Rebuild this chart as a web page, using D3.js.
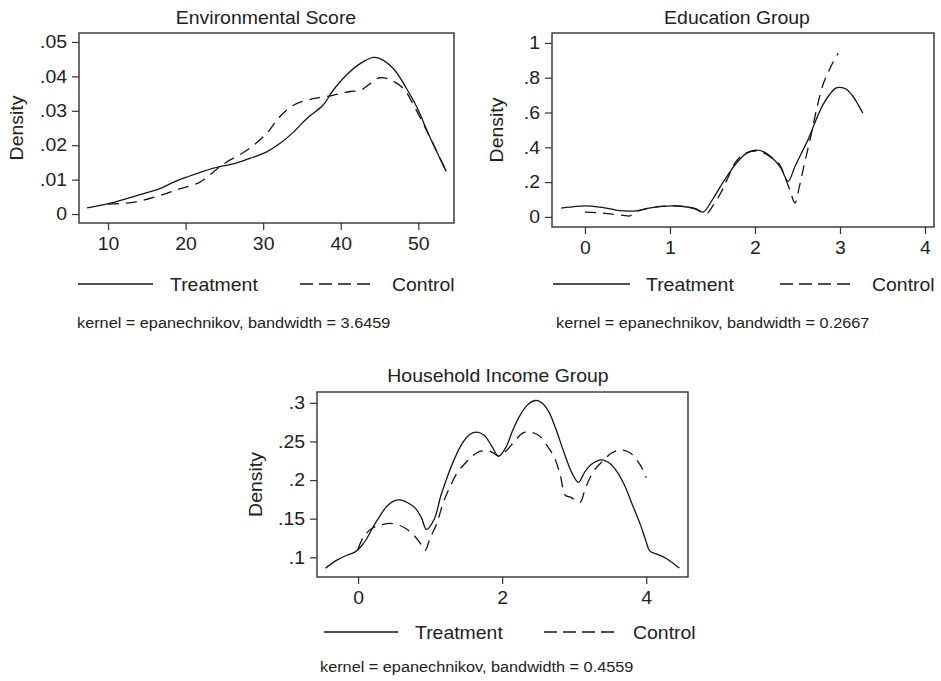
<!DOCTYPE html>
<html>
<head>
<meta charset="utf-8">
<script src="https://cdn.jsdelivr.net/npm/d3@7"></script>
<style>
  html, body { margin: 0; padding: 0; background: #fff; }
  svg { display: block; }
  text { font-family: "Liberation Sans", Arial, Helvetica, sans-serif; fill: #222; }
</style>
</head>
<body>
<svg id="chart" width="941" height="681"></svg>
<script>
// ---------- DATA ----------
const seriesNames = ["Treatment", "Control"];

// Environmental Score
const envTitle = "Environmental Score";
const envNote = "kernel = epanechnikov, bandwidth = 3.6459";
const envTicksX = [10, 20, 30, 40, 50];
const envTicksY = [0, 0.01, 0.02, 0.03, 0.04, 0.05];
const envTreatment = [
  [7.3,.0018],[10.2,.0031],[13.6,.0053],[16.6,.0073],[18.4,.0092],[20.1,.0107],[23.5,.0133],
  [26.5,.0148],[28.7,.0165],[30.4,.018],[32.1,.0204],[33.9,.0238],[35.6,.0277],[37.7,.0316],
  [39.0,.0359],[40.7,.0403],[42.5,.0437],[44.2,.0455],[45.0,.0452],[46.8,.0422],[48.5,.0364],
  [49.8,.0311],[51.5,.0223],[53.6,.0124]
];
const envControl = [
  [10.0,.0029],[13.2,.0034],[16.6,.0053],[19.2,.0073],[21.8,.0092],[23.5,.0121],[25.2,.015],
  [27.8,.0184],[30.4,.0233],[32.1,.0282],[33.9,.0316],[36.4,.0335],[39.0,.0345],[41.2,.0356],
  [42.5,.0359],[43.8,.0379],[45.0,.0396],[46.3,.0391],[48.1,.0364],[49.4,.0316],[51.5,.0223],
  [53.6,.0124]
];

// Education Group
const eduTitle = "Education Group";
const eduNote = "kernel = epanechnikov, bandwidth = 0.2667";
const eduTicksX = [0, 1, 2, 3, 4];
const eduTicksY = [0, 0.2, 0.4, 0.6, 0.8, 1];
const eduTreatment = [
  [-0.28,.05],[-0.1,.06],[0,.063],[0.15,.058],[0.3,.046],[0.41,.036],[0.6,.035],[0.75,.05],
  [0.9,.06],[1.05,.063],[1.2,.057],[1.3,.047],[1.39,.028],[1.5,.1],[1.6,.18],[1.7,.255],
  [1.8,.32],[1.9,.365],[2.0,.383],[2.1,.375],[2.2,.34],[2.3,.285],[2.39,.205],[2.47,.29],
  [2.55,.37],[2.63,.45],[2.72,.56],[2.8,.645],[2.88,.705],[2.95,.74],[3.0,.745],[3.07,.735],
  [3.15,.695],[3.22,.64],[3.27,.596]
];
const eduControl = [
  [0,.027],[0.15,.024],[0.3,.017],[0.45,.009],[0.53,.006],[0.6,.03],[0.75,.05],[0.9,.06],
  [1.05,.063],[1.2,.057],[1.3,.045],[1.43,.02],[1.5,.06],[1.6,.14],[1.67,.213],[1.78,.32],
  [1.88,.365],[1.98,.378],[2.08,.372],[2.18,.345],[2.29,.3],[2.36,.22],[2.42,.14],[2.47,.08],
  [2.52,.17],[2.57,.28],[2.65,.45],[2.73,.63],[2.8,.76],[2.87,.84],[2.93,.9],[2.98,.94]
];

// Household Income Group
const incTitle = "Household Income Group";
const incNote = "kernel = epanechnikov, bandwidth = 0.4559";
const incTicksX = [0, 2, 4];
const incTicksY = [0.1, 0.15, 0.2, 0.25, 0.3];
const incTreatment = [
  [-0.45,.086],[-0.3,.096],[-0.15,.103],[-0.04,.107],[0.05,.115],[0.12,.124],[0.2,.138],
  [0.3,.153],[0.4,.166],[0.5,.173],[0.6,.174],[0.72,.169],[0.8,.163],[0.88,.151],[0.95,.136],
  [1.06,.15],[1.15,.18],[1.25,.207],[1.35,.23],[1.45,.248],[1.55,.259],[1.65,.262],[1.75,.258],
  [1.85,.245],[1.95,.231],[2.05,.242],[2.15,.265],[2.25,.284],[2.35,.297],[2.46,.303],[2.55,.3],
  [2.65,.288],[2.75,.265],[2.85,.238],[2.97,.209],[3.06,.197],[3.15,.211],[3.25,.221],[3.38,.226],
  [3.5,.221],[3.6,.21],[3.7,.193],[3.8,.17],[3.92,.142],[4.0,.12],[4.05,.108],[4.15,.104],
  [4.25,.1],[4.35,.094],[4.46,.086]
];
const incControl = [
  [0,.111],[0.08,.127],[0.2,.138],[0.32,.142],[0.44,.144],[0.55,.142],[0.65,.138],[0.76,.13],
  [0.85,.12],[0.93,.109],[1.0,.125],[1.09,.143],[1.18,.17],[1.27,.19],[1.38,.21],[1.51,.224],
  [1.6,.232],[1.69,.237],[1.8,.238],[1.88,.235],[1.95,.231],[2.06,.238],[2.17,.25],[2.29,.261],
  [2.4,.262],[2.52,.257],[2.62,.245],[2.72,.23],[2.8,.209],[2.88,.18],[2.95,.178],[3.08,.171],
  [3.15,.188],[3.22,.203],[3.3,.215],[3.41,.226],[3.52,.235],[3.64,.239],[3.74,.237],[3.82,.232],
  [3.92,.219],[4.0,.203]
];

// ---------- LAYOUT ----------
const panels = [
  { title: envTitle, note: envNote, ticksX: envTicksX, ticksY: envTicksY,
    treat: envTreatment, ctrl: envControl,
    frame: [79, 33, 454, 223], xd: [6.26, 54.6], yd: [-0.0026, 0.0526],
    titleX: 266, titleY: 24, dens: 17, xPad: 7,
    leg: { y: 284, l1: [78, 153], t1: 170, l2: [300, 370], t2: 392 },
    noteX: 77, noteY: 328 },
  { title: eduTitle, note: eduNote, ticksX: eduTicksX, ticksY: eduTicksY,
    treat: eduTreatment, ctrl: eduControl,
    frame: [552, 33, 934, 227], xd: [-0.388, 4.106], yd: [-0.058, 1.057],
    titleX: 737, titleY: 24, dens: 497, xPad: 7,
    leg: { y: 284, l1: [553, 630], t1: 646, l2: [780, 855], t2: 872 },
    noteX: 556, noteY: 328 },
  { title: incTitle, note: incNote, ticksX: incTicksX, ticksY: incTicksY,
    treat: incTreatment, ctrl: incControl,
    frame: [317, 392, 688, 577], xd: [-0.57, 4.58], yd: [0.0745, 0.314],
    titleX: 498, titleY: 382, dens: 256, xPad: 7,
    leg: { y: 632, l1: [324, 398], t1: 415, l2: [544, 618], t2: 633 },
    noteX: 320, noteY: 672 }
];

const FS = 18, SX = 1.08, NOTE_FS = 15.5, NOTE_SX = 1.05;
const LINE = "#151515", FRAME = "#333";
const DASH = "11,7";
const fmtY = v => v === 0 ? "0" : (+v.toFixed(3)).toString().replace(/^0\./, ".");

const svg = d3.select("#chart");

function label(g, x, y, str, opts = {}) {
  const fs = opts.fs || FS, sx = opts.sx || SX;
  const rot = opts.rotate ? " rotate(-90)" : "";
  const scale = opts.rotate ? `scale(1,1)` : `scale(${sx},1)`;
  return g.append("text")
    .attr("transform", `translate(${x},${y})${rot} ${scale}`)
    .attr("text-anchor", opts.anchor || "start")
    .attr("font-size", fs).text(str);
}

panels.forEach(p => {
  const [x0, y0, x1, y1] = p.frame;
  const x = d3.scaleLinear().domain(p.xd).range([x0, x1]);
  const y = d3.scaleLinear().domain(p.yd).range([y1, y0]);
  const g = svg.append("g");

  // axes
  const xAxis = d3.axisBottom(x).tickValues(p.ticksX).tickSize(7).tickPadding(p.xPad)
    .tickFormat(d3.format("d"));
  const gx = g.append("g").attr("transform", `translate(0,${y1})`).call(xAxis);
  const yAxis = d3.axisLeft(y).tickValues(p.ticksY).tickSize(7).tickPadding(5).tickFormat(fmtY);
  const gy = g.append("g").attr("transform", `translate(${x0},0)`).call(yAxis);
  [gx, gy].forEach(a => {
    a.select(".domain").remove();
    a.selectAll(".tick line").attr("stroke", FRAME).attr("stroke-width", 1.2);
    a.selectAll(".tick text").attr("font-size", FS).attr("fill", "#222")
      .attr("font-family", '"Liberation Sans", Arial, sans-serif');
  });
  gx.selectAll(".tick text").attr("transform", `scale(${SX},1)`);
  gy.selectAll(".tick text").each(function() {
    const t = d3.select(this);
    const xv = +t.attr("x");
    t.attr("x", xv / SX).attr("transform", `scale(${SX},1)`);
  });

  // frame
  g.append("rect").attr("x", x0).attr("y", y0).attr("width", x1 - x0).attr("height", y1 - y0)
    .attr("fill", "none").attr("stroke", FRAME).attr("stroke-width", 1.4);

  // curves
  const line = d3.line().x(d => x(d[0])).y(d => y(d[1])).curve(d3.curveCatmullRom.alpha(0.5));
  g.append("path").datum(p.treat).attr("d", line).attr("fill", "none")
    .attr("stroke", LINE).attr("stroke-width", 1.3);
  g.append("path").datum(p.ctrl).attr("d", line).attr("fill", "none")
    .attr("stroke", LINE).attr("stroke-width", 1.3).attr("stroke-dasharray", DASH);

  // title
  label(g, p.titleX, p.titleY, p.title, { anchor: "middle" });

  // y label
  const cy = (y0 + y1) / 2;
  g.append("text").attr("transform", `translate(${p.dens + 6},${cy}) rotate(-90) scale(${SX},1)`)
    .attr("text-anchor", "middle").attr("font-size", FS).text("Density");

  // legend
  const L = p.leg;
  g.append("line").attr("x1", L.l1[0]).attr("x2", L.l1[1]).attr("y1", L.y).attr("y2", L.y)
    .attr("stroke", LINE).attr("stroke-width", 1.3);
  label(g, L.t1, L.y + 6.5, seriesNames[0]);
  g.append("line").attr("x1", L.l2[0]).attr("x2", L.l2[1]).attr("y1", L.y).attr("y2", L.y)
    .attr("stroke", LINE).attr("stroke-width", 1.3).attr("stroke-dasharray", "13,6");
  label(g, L.t2, L.y + 6.5, seriesNames[1]);

  // note
  label(g, p.noteX, p.noteY, p.note, { fs: NOTE_FS, sx: NOTE_SX });
});
</script>
</body>
</html>
